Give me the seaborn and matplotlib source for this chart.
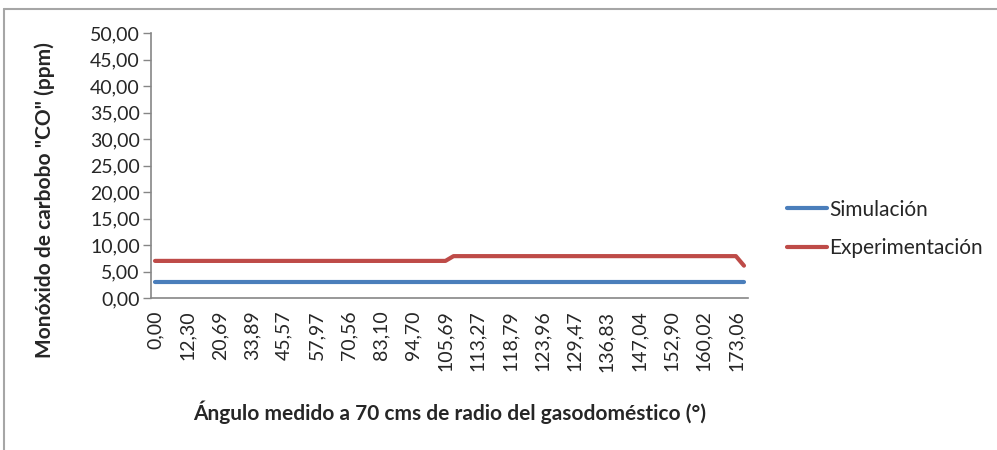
import numpy as np
import matplotlib
matplotlib.use("Agg")
import matplotlib.pyplot as plt
import seaborn as sns
from matplotlib.lines import Line2D

# Datos (74 categorias de angulo, etiqueta cada 4)
etiquetas_angulo = ["0,00", "12,30", "20,69", "33,89", "45,57", "57,97", "70,56",
                    "83,10", "94,70", "105,69", "113,27", "118,79", "123,96",
                    "129,47", "136,83", "147,04", "152,90", "160,02", "173,06"]
n_categorias = 74
simulacion = [3.0] * 74
experimentacion = [7.0] * 37 + [7.9] * 36 + [6.1]

sns.set_style("white")
plt.rcParams['font.family'] = ['Lato', 'DejaVu Sans']

azul = "#4A7EBB"
rojo = "#BE4B48"
gris = "#868686"

fig = plt.figure(figsize=(9.97, 4.5), dpi=100)
ax = fig.add_axes([151 / 997, 1 - 298 / 450, 597 / 997, 265 / 450])

x = np.arange(n_categorias)
sns.lineplot(x=x, y=simulacion, ax=ax, color=azul, linewidth=3, label="Simulación")
sns.lineplot(x=x, y=experimentacion, ax=ax, color=rojo, linewidth=3, label="Experimentación")

# Ejes
ax.set_xlim(-0.5, n_categorias - 0.5)
ax.set_ylim(0, 50)
yt = np.arange(0, 51, 5)
ax.set_yticks(yt)
ax.set_yticklabels([f"{v:.2f}".replace(".", ",") for v in yt], fontsize=14)
ax.set_xticks(np.arange(0, len(etiquetas_angulo) * 4, 4))
ax.set_xticklabels(etiquetas_angulo, rotation=90, fontsize=14)
ax.set_xticks(np.arange(-0.5, n_categorias, 1), minor=True)
ax.tick_params(axis="x", which="major", length=0, pad=9)
ax.tick_params(axis="x", which="minor", length=5, width=1, color=gris, direction="out")
ax.tick_params(axis="y", length=6, width=1, color=gris, direction="out", left=True, pad=2)

for s in ["top", "right"]:
    ax.spines[s].set_visible(False)
for s in ["left", "bottom"]:
    ax.spines[s].set_color(gris)
    ax.spines[s].set_linewidth(1.2)

ax.set_ylabel('Monóxido de carbobo "CO" (ppm)', fontsize=15, fontweight="bold")
ax.yaxis.label.set_va("center")
ax.yaxis.set_label_coords(-0.178, 0.37)
ax.set_xlabel("Ángulo medido a 70 cms de radio del gasodoméstico (°)", fontsize=15, fontweight="bold")
ax.xaxis.label.set_va("center")
ax.xaxis.set_label_coords(0.5, -0.43)

# Leyenda a la derecha
leg = ax.legend(loc="center left", bbox_to_anchor=(777 / 997, 1 - 229 / 450),
                bbox_transform=fig.transFigure, frameon=False, fontsize=15,
                handlelength=1.9, handletextpad=0.1, labelspacing=0.9, borderpad=0)

# Borde del grafico (solo superior e izquierdo visibles)
fig.add_artist(Line2D([4 / 997, 1], [1 - 9 / 450, 1 - 9 / 450], transform=fig.transFigure,
                      color="#A6A6A6", linewidth=1.5))
fig.add_artist(Line2D([4 / 997, 4 / 997], [0, 1 - 9 / 450], transform=fig.transFigure,
                      color="#A6A6A6", linewidth=1.5))

fig.savefig("out.png", dpi=100)
